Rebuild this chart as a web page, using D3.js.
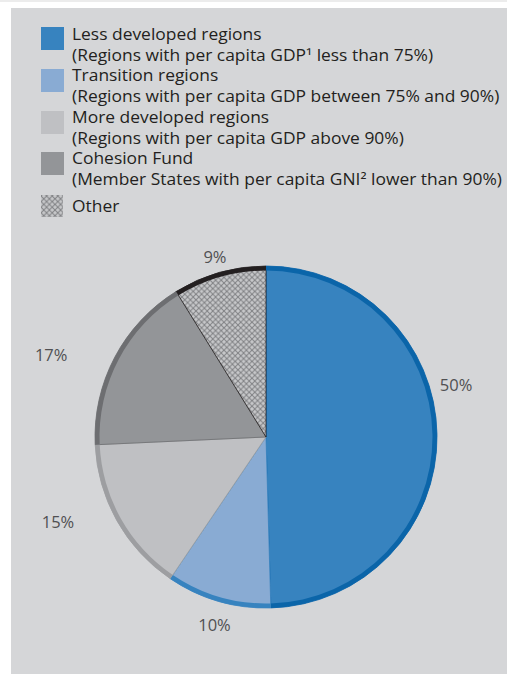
<!DOCTYPE html>
<html>
<head>
<meta charset="utf-8">
<script src="https://cdn.jsdelivr.net/npm/d3@7"></script>
<style>
  html, body { margin: 0; padding: 0; background: #fff; }
  svg { display: block; }
</style>
</head>
<body>
<div id="chart"></div>
<script>
// Chart data
const categories = ['Less developed regions', 'Transition regions', 'More developed regions', 'Cohesion Fund', 'Other'];
const subtitles = [
    '(Regions with per capita GDP\u00b9 less than 75%)',
    '(Regions with per capita GDP between 75% and 90%)',
    '(Regions with per capita GDP above 90%)',
    '(Member States with per capita GNI\u00b2 lower than 90%)',
    null
];
const values = [49.5, 9.9, 14.8, 16.9, 8.8];
const valueLabels = ['50%', '10%', '15%', '17%', '9%'];

// Colours: fill and darker outer rim
const fills = ['#3783bf', '#89abd3', '#bfc0c3', '#939598', 'url(#hatch)'];
const rims = ['#0b65a9', '#3783bf', '#9d9ea1', '#6d6e71', '#231f20'];

// Label placement tweaks (degrees off mid-angle, gap outside rim)
const labelShiftDeg = [-14.4, -0.9, 6.9, -6.9, 0];
const labelGap = [26, 24, 54, 59, 16];

const width = 507, height = 674;

const svg = d3.select('#chart').append('svg')
    .attr('width', width)
    .attr('height', height);

// crosshatch for "Other"
const hs = 5.6;
const pat = svg.append('defs').append('pattern')
    .attr('id', 'hatch')
    .attr('patternUnits', 'userSpaceOnUse')
    .attr('width', hs)
    .attr('height', hs);
pat.append('rect').attr('width', hs).attr('height', hs).attr('fill', '#c7c8ca');
pat.append('path').attr('d', `M0,0L${hs},${hs}M${hs},0L0,${hs}`).attr('stroke', '#808184').attr('stroke-width', 1);

// top strip + panel
svg.append('rect').attr('x', 0).attr('y', 0).attr('width', width).attr('height', 2).attr('fill', '#ececec');
svg.append('rect').attr('x', 11).attr('y', 8).attr('width', width - 11).attr('height', height - 8).attr('fill', '#d5d6d8');

// Legend
const legendFont = "'Open Sans', 'DejaVu Sans', sans-serif";
const legend = svg.append('g').attr('transform', 'translate(41,0)');
const swatchY = [27, 69, 111, 152, 195];
const lineH = 20.7;
const fs = 15.6;

const legendLines = [];
categories.forEach((c, i) => {
    legendLines.push({ text: c, y: 40 + i * 2 * lineH + (i === 4 ? 6 : 0) });
    if (subtitles[i]) legendLines.push({ text: subtitles[i], y: 40 + (i * 2 + 1) * lineH });
});

const legendText = legend.selectAll('text.leg')
    .data(legendLines)
    .join('text')
    .attr('class', 'leg')
    .attr('x', 31)
    .attr('y', d => d.y)
    .attr('fill', '#231f20')
    .style('font-family', legendFont)
    .style('font-size', fs + 'px')
    .text(d => d.text);

// squeeze lines so the longest matches the reference width
const longest = d3.max(legendText.nodes(), n => n.getComputedTextLength());
const squeeze = 430 / longest;
legendText.each(function () {
    const w = this.getComputedTextLength();
    d3.select(this).attr('textLength', w * squeeze).attr('lengthAdjust', 'spacingAndGlyphs');
});

legend.selectAll('rect.sw')
    .data(categories)
    .join('rect')
    .attr('class', 'sw')
    .attr('x', 0)
    .attr('y', (d, i) => swatchY[i])
    .attr('width', (d, i) => i === 4 ? 22 : 23)
    .attr('height', (d, i) => i === 4 ? 22 : 23)
    .attr('fill', (d, i) => fills[i]);

// Pie
const cx = 266, cy = 437, r = 171, rim = 4.5;
const pie = d3.pie().sort(null).value(d => d);
const arcs = pie(values);

const arc = d3.arc().innerRadius(0).outerRadius(r);
const rimArc = d3.arc().innerRadius(r - rim).outerRadius(r);

const g = svg.append('g').attr('transform', `translate(${cx},${cy})`);

g.selectAll('path.slice')
    .data(arcs)
    .join('path')
    .attr('class', 'slice')
    .attr('d', arc)
    .attr('fill', (d, i) => fills[i])
    .attr('stroke', (d, i) => rims[i])
    .attr('stroke-width', 0.8)
    .attr('stroke-linejoin', 'round');

g.selectAll('path.rim')
    .data(arcs)
    .join('path')
    .attr('class', 'rim')
    .attr('d', rimArc)
    .attr('fill', (d, i) => rims[i]);

// Labels
g.selectAll('text.lab')
    .data(arcs)
    .join('text')
    .attr('class', 'lab')
    .attr('transform', (d, i) => {
        const a = (d.startAngle + d.endAngle) / 2 + labelShiftDeg[i] * Math.PI / 180;
        const R = r + labelGap[i];
        return `translate(${R * Math.sin(a)},${-R * Math.cos(a)})`;
    })
    .attr('text-anchor', 'middle')
    .attr('dy', '0.35em')
    .attr('fill', '#505052')
    .style('font-family', legendFont)
    .style('font-size', '16.5px')
    .text((d, i) => valueLabels[i]);
</script>
</body>
</html>
